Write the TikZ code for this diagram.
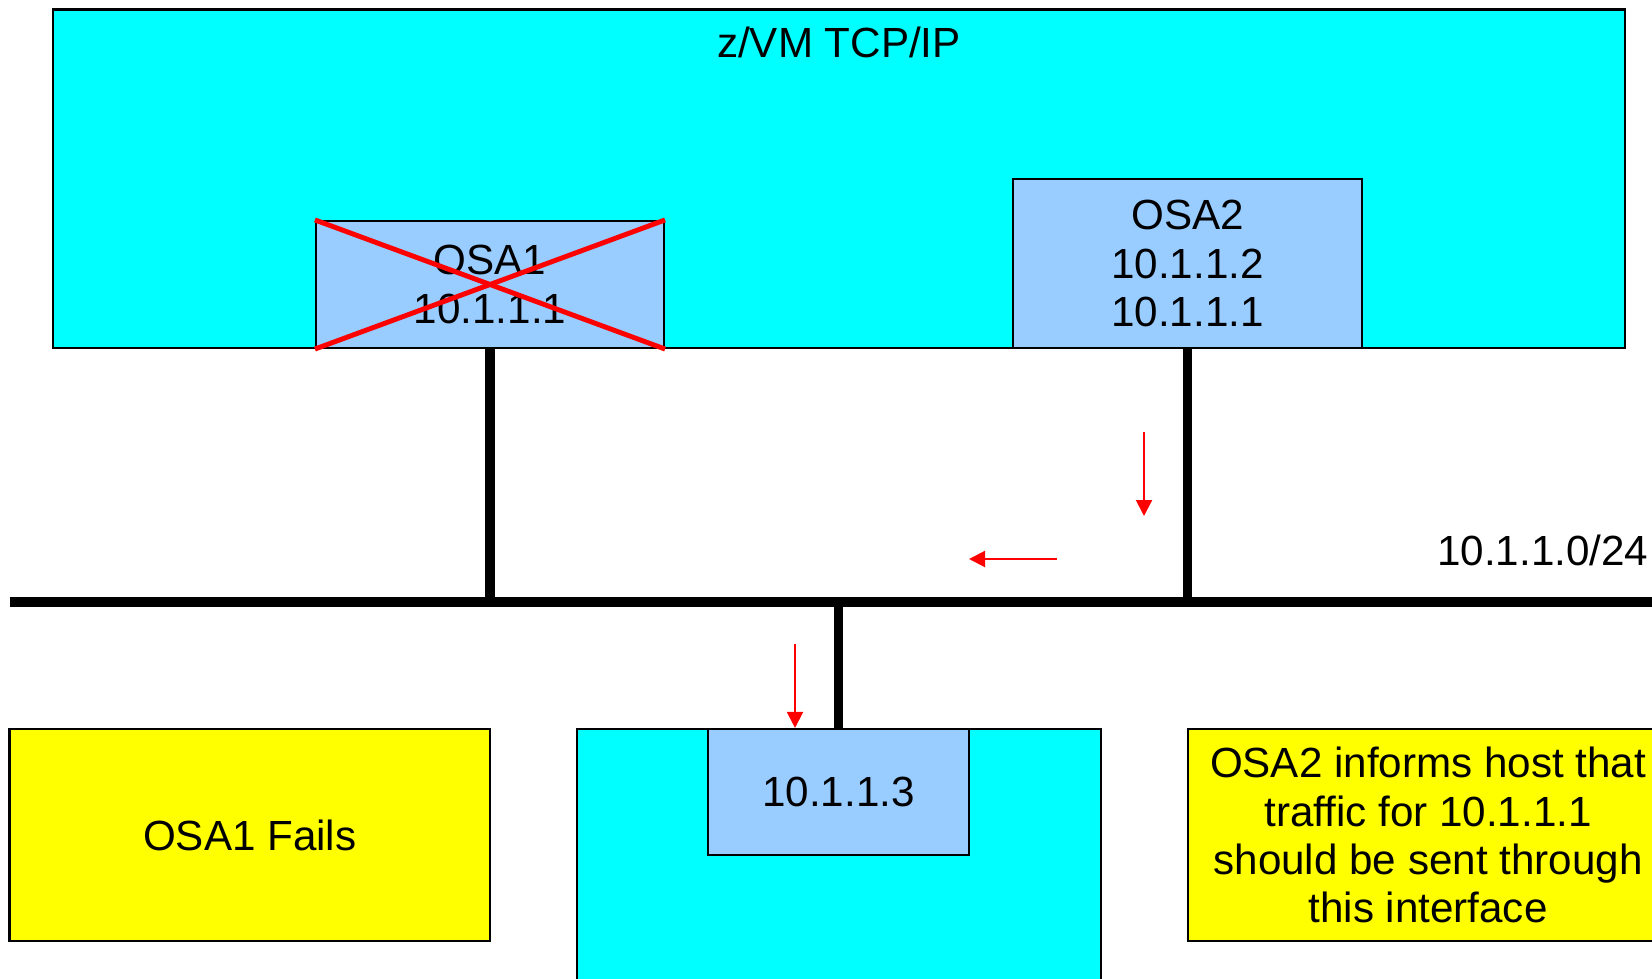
\documentclass[tikz,border=0pt]{standalone}
\usepackage{fontspec}
\setmainfont{Liberation Sans}
\usepackage{xcolor}
\usetikzlibrary{arrows.meta,positioning}
\definecolor{vmcyan}{HTML}{00FFFF}
\definecolor{osablue}{HTML}{99CCFF}
\definecolor{noteyellow}{HTML}{FFFF00}
\definecolor{failred}{HTML}{FF0000}
\tikzset{
  hostbox/.style={draw=black,fill=vmcyan,line width=0.6pt,inner sep=0pt},
  osacard/.style={draw=black,fill=osablue,line width=0.6pt,align=center,
                  inner sep=0pt,font=\fontsize{12}{13.7}\selectfont},
  notecard/.style={draw=black,fill=noteyellow,line width=0.6pt,align=center,
                   inner sep=0pt,font=\fontsize{12}{13.7}\selectfont},
  lbl/.style={inner sep=0pt,font=\fontsize{12}{13.7}\selectfont},
  wire/.style={line width=2.8pt,draw=black},
  crossout/.style={line width=1.4pt,draw=failred},
  redarr/.style={-{Triangle[length=1.6mm,width=1.6mm]},line width=0.6pt,
                 draw=failred}
}
\begin{document}
\begin{tikzpicture}[x=1cm,y=1cm]
    \useasboundingbox (0,0) rectangle (16.52,9.78);
    % z/VM stack
    \node[hostbox,minimum width=15.72cm,minimum height=3.385cm] (zvm)
      at (8.39,7.9925) {};
    \node[lbl] (zvmlbl) at (8.39,9.36) {z/VM TCP/IP};
    \node[osacard,minimum width=3.48cm,minimum height=1.27cm] (osa1)
      at (4.90,6.935) {OSA1\\10.1.1.1};
    \draw[crossout] (osa1.north west) -- (osa1.south east);
    \draw[crossout] (osa1.south west) -- (osa1.north east);
    \node[osacard,minimum width=3.49cm,minimum height=1.69cm] (osa2)
      at (11.875,7.145) {OSA2\\10.1.1.2\\10.1.1.1};
    % LAN
    \coordinate (busL) at (0.10,3.76);
    \coordinate (busR) at (16.52,3.76);
    \draw[wire] (busL) -- (busR);
    \node[lbl,anchor=east] (subnet) at (16.49,4.28) {10.1.1.0/24};
    \draw[wire] (osa1.south) -- (osa1.south |- busL);
    \draw[wire] (osa2.south) -- (osa2.south |- busL);
    % remote host
    \node[hostbox,minimum width=5.24cm,minimum height=2.59cm] (host)
      at (8.39,1.195) {};
    \node[osacard,minimum width=2.61cm,minimum height=1.26cm] (ip3)
      at (8.385,1.86) {10.1.1.3};
    \draw[wire] (ip3.north) -- (ip3.north |- busL);
    % notes
    \node[notecard,minimum width=4.805cm,minimum height=2.12cm] (fails)
      at (2.4975,1.43) {OSA1 Fails};
    \node[notecard,minimum width=4.80cm,minimum height=2.12cm] (inform)
      at (14.28,1.43) {OSA2 informs host that\\traffic for 10.1.1.1\\
       should be sent through\\this interface};
    % takeover path
    \coordinate (a1s) at (11.44,5.46);
    \coordinate (a1e) at (11.44,4.62);
    \coordinate (a2s) at (10.57,4.19);
    \coordinate (a2e) at (9.69,4.19);
    \coordinate (a3s) at (7.95,3.34);
    \draw[redarr] (a1s) -- (a1e);
    \draw[redarr] (a2s) -- (a2e);
    \draw[redarr] (a3s) -- (a3s |- ip3.north);
  \end{tikzpicture}
\end{document}
